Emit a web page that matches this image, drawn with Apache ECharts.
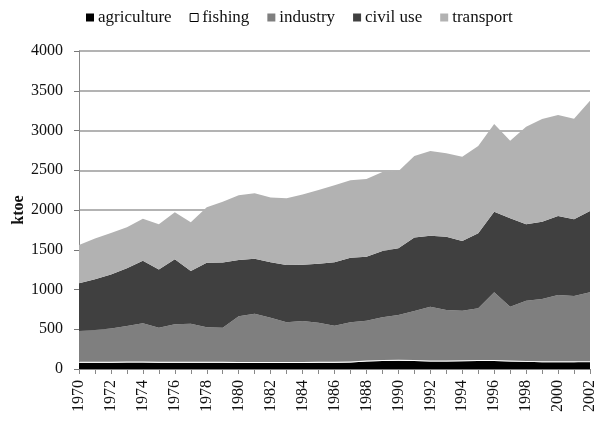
<!DOCTYPE html>
<html>
<head>
<meta charset="utf-8">
<script src="https://cdn.jsdelivr.net/npm/echarts@6/dist/echarts.min.js"></script>
<style>
  html, body { margin: 0; padding: 0; background: #fff; }
  #chart { width: 595px; height: 421px; }
</style>
</head>
<body>
<div id="chart"></div>
<script>
// years on the x axis
var years = [];
for (var y = 1970; y <= 2002; y++) years.push(String(y));

// ktoe per sector
var agriculture = [80, 80, 80, 82, 82, 80, 80, 80, 80, 78, 75, 75, 75, 75, 75, 78, 80, 82,
  95, 100, 105, 100, 95, 95, 98, 100, 100, 95, 90, 85, 85, 85, 85];
var fishing = [12, 12, 12, 12, 12, 12, 12, 12, 12, 12, 12, 12, 12, 12, 12, 12, 12, 12,
  12, 12, 12, 12, 12, 12, 12, 12, 12, 12, 12, 12, 12, 12, 12];
var industry = [386, 398, 418, 447, 481, 428, 470, 478, 432, 430, 576, 609, 559, 500, 517, 493, 453, 493,
  501, 538, 562, 618, 677, 635, 624, 651, 853, 677, 758, 783, 834, 821, 868];
var civilUse = [600, 640, 680, 725, 787, 733, 817, 662, 813, 821, 707, 692, 696, 721, 708, 742, 797, 813,
  805, 834, 839, 924, 893, 923, 876, 943, 1014, 1111, 960, 973, 994, 965, 1022];
var transport = [482, 510, 520, 516, 529, 567, 592, 613, 697, 764, 815, 822, 816, 839, 884, 927, 968, 973,
  977, 994, 968, 1026, 1065, 1048, 1061, 1099, 1103, 977, 1228, 1292, 1270, 1266, 1388];

var FONT = 'Liberation Serif';

function area(name, data, color) {
  return {
    name: name,
    type: 'line',
    stack: 'total',
    symbol: 'none',
    lineStyle: { width: 0 },
    itemStyle: { color: color },
    areaStyle: { color: color, opacity: 1 },
    data: data
  };
}

var mychart = echarts.init(document.getElementById('chart'));
var option = {
  animation: false,
  legend: {
    left: 86,
    top: 9,
    padding: 0,
    icon: 'rect',
    itemWidth: 8,
    itemHeight: 8,
    itemGap: 18,
    textStyle: { fontFamily: FONT, fontSize: 17, color: '#111', padding: [0, 0, 0, -1] },
    data: [
      { name: 'agriculture' },
      { name: 'fishing', itemStyle: { color: '#fff', borderColor: '#000', borderWidth: 1 } },
      { name: 'industry' },
      { name: 'civil use' },
      { name: 'transport' }
    ]
  },
  grid: { left: 79, right: 5, top: 51, bottom: 52, outerBoundsMode: 'none' },
  xAxis: {
    type: 'category',
    boundaryGap: false,
    data: years,
    axisLine: { lineStyle: { color: '#888', width: 1 } },
    axisTick: { interval: 0, length: 5, lineStyle: { color: '#888' } },
    axisLabel: { interval: 1, rotate: 90, margin: 11, fontFamily: FONT, fontSize: 16, color: '#111' }
  },
  yAxis: {
    type: 'value',
    min: 0,
    max: 4000,
    interval: 500,
    name: 'ktoe',
    nameLocation: 'middle',
    nameGap: 52,
    nameRotate: 90,
    nameMoveOverlap: false,
    nameTextStyle: { fontFamily: FONT, fontSize: 16, fontWeight: 'bold', color: '#111' },
    axisLine: { show: true, lineStyle: { color: '#888', width: 1 } },
    axisTick: { show: true, length: 5, lineStyle: { color: '#777' } },
    axisLabel: { margin: 16, fontFamily: FONT, fontSize: 16, color: '#111', formatter: function (v) { return String(v); } },
    splitLine: { lineStyle: { color: '#9a9a9a', width: 1.5 } }
  },
  series: [
    area('agriculture', agriculture, '#000000'),
    area('fishing', fishing, '#ffffff'),
    area('industry', industry, '#7f7f7f'),
    area('civil use', civilUse, '#404040'),
    area('transport', transport, '#b2b2b2')
  ]
};
mychart.setOption(option);
</script>
</body>
</html>
